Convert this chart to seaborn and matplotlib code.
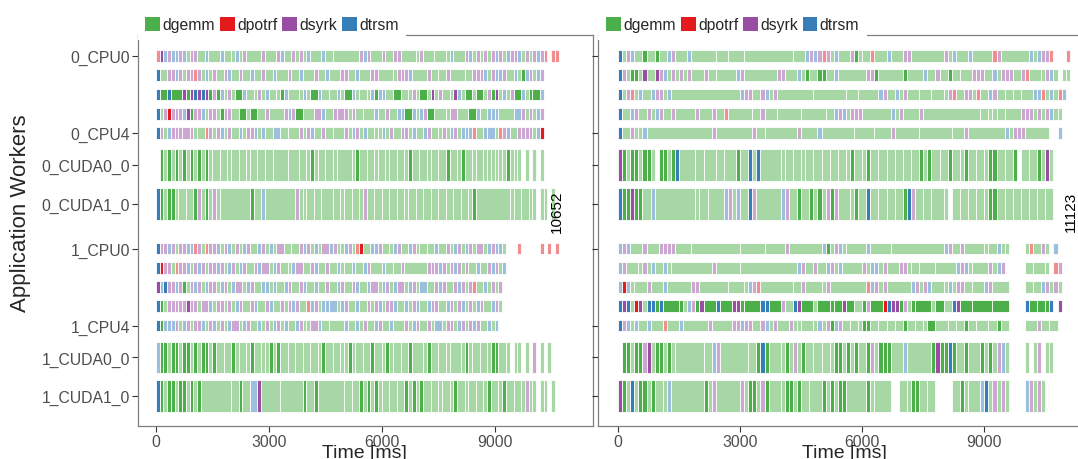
import matplotlib
matplotlib.use("Agg")
import matplotlib.pyplot as plt
from matplotlib.patches import Patch
import seaborn as sns

# one character = one 100 ms slot of a worker; upper case = highlighted task,
# "-" = previous task goes on, "." = idle
SLOT_MS = 100
CODES = {"g": "dgemm", "p": "dpotrf", "s": "dsyrk", "t": "dtrsm"}
TASKS = ["dgemm", "dpotrf", "dsyrk", "dtrsm"]

WORKERS = ["0_CPU0", "0_CPU1", "0_CPU2", "0_CPU3", "0_CPU4", "0_CUDA0_0", "0_CUDA1_0",
           "1_CPU0", "1_CPU1", "1_CPU2", "1_CPU3", "1_CPU4", "1_CUDA0_0", "1_CUDA1_0"]
YTICK_LABELS = ["0_CPU0", "0_CPU4", "0_CUDA0_0", "0_CUDA1_0",
                "1_CPU0", "1_CPU4", "1_CUDA0_0", "1_CUDA1_0"]
XTICKS = [0, 3000, 6000, 9000]
MAKESPAN = [10652, 11123]

TRACE_A = [
    "pStsttstgs sg-tg--tg- gtgsg---sg --stg-sgsg tg--tg-g-- ----stsg-- sg-ssg---g sg--g--gtg --stgsgsgs tsgtsstgsg stsp.pp",
    "Tg-sstsgss psgtgsg-st g-sg-tg-sg -tg--sg-tg --sg-tg--s sg-tg--ssg ---gssstg- --sg-g-sg- --g-ssstgs ttsg-tgGts gts",
    "TG-TG--SGS TSTSGsGtgs gG-tg-gsgt g-gGtg--gt gG-tg-g-tg G-tgg-gtGt tg-G-g-gsg G-gSgsg-gS tgG-gG-gsG SgtgsG-tgG G-t",
    "TgsPssstSG sstgssgGss g-G-gG-g-s g---stsG-g --s-tg-ss- sgsg-g--tg -sg-ttG-tg tsG-g--gs- g--G-tg-tt tg---t-sgs gts",
    "Tsgtssss-s gg-psgstgs g-tgsstgtg -t-g-g--sg stg-sg-g-- sgtsgtg-gg tgsg-ssgtg -tsg-gsgts gtttpg-tt- gpstg-ssss gtP",
    ".GgGgGgGgG gGgGgg-g-g g-g-gg-g-g -g---g--g- gGgg-g-gg- --gGg-g-gg -gg-g-gGg- g-gg-g-Gg- gGg-gg-ggg gggGggg.g. g.g.",
    "TGgGGgg-g- GsgGgsgg-- -----Gg-tg -------sgg g-g-g--g-g g-g-gsg-g- g-g-g-gg-g -g-g-g-g-g -g-gGg---- ----gg-g-g g.gg.g",
    "Tsstsgsstt psgpsstgst gsgtsg-tsg tgs-g-g-st sgtgs-tsgg tsgpPg-tts g-gtsg-tsg g-g-tg-sgt sgtsgs-gts ttg...p... ..p.p.p",
    "TPssgpsstg stsgsstsgt sgtsg-sts- gtsg-gts-g -stg-sg-tg g-tg-tsg-- tg-g-sg--- --ssstsgst sgsg-tg-st sgt",
    "StTsstsGgs tsgtssgtsg ts-gtsg-tt gtg-tsg-st g-tg-sg-ts g-stg-ts-g tsgts-gtsg t-g-stsg-s tsgspg-tgs gs",
    "TGgsssssSs sgs-tgssgs gtsg-stg-s tg-sgstsg- ptsgttt-gt sg-tg-sgst gsstg-tgst g-tssg-tsg stgsgtsg-t sg",
    "TGtttsgtsg sstgstgsgt s-gtsg-tgs gtsgtg-tsg gs-tg-g--- tg-tgsg-ts g-tg--sgts g-sgt-gssg tsgstsg-tg t",
    "tGGgGGgGGg GgGGgGg-g- Ggg-gGg-gg GgGg-g-g-g -g-gGg-g-g gGgg-g-Gg- gGgg-g-Gg- -gGg-g-gg- -gGgg-g-gG Gg-g.gg.g. s.g.g",
    "TGgGGgGGgG gGg------- g-Gg-t-Sg- ---g-----G g-Gg------ g-g-GgGgGg g-g-g-GgGg Gg-g-gg-gG g-gg-g-gGg -gGg-g-gsg g.gg.g",
]

TRACE_B = [
    "Tgstg-Gg-G g-tsg--tg- ----g--g-- -g-------- ---g--tsts psgtg--sGg g-pg--tg-- ssg------- sgtg--tg-- --psg----- -tgtssp... p",
    "TsgGGgSg-S stgsgsgsg- -sg-g----t sg-------s sg--tgGg-G Gg-tg----- -ssGg----- Gg---tg-sg -Gg-g--sss g-tgsssg-s pg--gstg.g g",
    "Tgspgtg-ts sgtg------ ---------- tssg-stgsg --------g- ------g--g ----tsg-tg sg--g--g-- gspg-ssgpg -tsg-g-g-g --ttpgtgpt",
    "Tg-tsg-sgt sg-sg----s g--sg-pg-- ---g-sg--g -----g---- -g-tstgsss g------tgs g---sg---- ---------g -ggg-g---s ssgsgstgg",
    "Tg-sggtg-- ---------- ---sg----- ---sg-g--- ----sg---t g-------g- ---g---sg- ----g----- --g--sg--- -----tgsss g-----..t",
    "SGgGGgGGg. GGgGTg---g -g--g-g--G g-TgTg---- gg-g-gg-g- g-g-g-gGg- gGg-g-g-g- g-g-GgGg-g -Gg-gGg-g- gGGg-g-G.g -g-GgSg",
    "TGGSGGg-tg ---------g g-g---tsgt g-Tsg----- tsg-Gg-GgG gsGsg--gGg -Tg-g-g-g- GTsg-g-g-- g.g-g-g-g- gGGg-g-g-g -g-g-g-",
    "tstg--sg-- ssssg---g- ---------- g-----g--- -sg------- tGgstgg--- -tg----g-- ---------- tsg-sg---- gg-tgg.... gpg-sg.t",
    "tsg--gsgtg -tgg------ ---sg----- g--------- ----tsg-sg -tsgtg---- sgttgsg--s sgg-g---g- ---tstgg-- -sgts..... g-g--g.ps",
    "tPtgg--sg- -tg-----ss g------g-- -gtspg---- ---g-sg--- gsg------- -ptsgsg--- --tsgstg-- gtgssg-g-- tsg---.... g-g-tsgsg",
    "TSTgPSgTTG TG---GgtsG SG--TG--SS GG---TTG-- sg-TSG--gG --GG-SG-g- GsG--PTSSG sgGG---gG- g-TSG--G-- --G---.... TG-G-GT.S",
    "Tstgtg-tg- -pg--tg--- --sg----ss tssg-stgsg --sggg--gt gsGtsg-g-g GGg-g-g-g- Gg-g-gG-g- -g-g-Gg-g- -g-Gg-.... g--sg-g-",
    ".GGgGGsSgG GgGgg----- -g-tsg---- --g-GTGg-- gGgsgGg-g- g-gGGgGgGg -GsgGGGg-- tg-----GSG GTGg-Gg--G gGgstg.... g.gs.gg",
    "SGgTgGGgGg -gtg------ -Ggsg----- sgGGgsGg-- gGGgGg-g-- GgGgGGg--- -Ggg---..g -gGGg-g-.. ..g-Ggg--t Tgsgsg.... tsgsg",
]


def parse_row(row):
    tasks = []
    cur = None
    for i, ch in enumerate(row.replace(" ", "")):
        if ch == "-":
            if cur is not None:
                cur[1] += SLOT_MS
        elif ch == ".":
            cur = None
        else:
            cur = [i * SLOT_MS, (i + 1) * SLOT_MS, CODES[ch.lower()], ch.isupper()]
            tasks.append(cur)
    return tasks


def row_layout(worker):
    node, res = worker.split("_", 1)
    base = int(node) * 10
    if res.startswith("CPU"):
        return base + int(res[3:]), 0.6
    return base + (5.66 if res.startswith("CUDA0") else 7.68), 1.65


sns.set_theme(style="ticks")
plt.rcParams["font.family"] = ["Liberation Sans", "DejaVu Sans"]

pal = sns.color_palette("Set1")
FULL = {"dgemm": pal[2], "dpotrf": pal[0], "dsyrk": pal[3], "dtrsm": pal[1]}
LIGHT = {k: tuple(0.5 + 0.5 * c for c in v) for k, v in FULL.items()}

W, H = 1078, 460
fig = plt.figure(figsize=(W / 100, H / 100), dpi=100)
ax_a = fig.add_axes([137.5 / W, 33 / H, 455 / W, 391 / H])
ax_b = fig.add_axes([598.3 / W, 33 / H, 491.7 / W, 391 / H])

ytick_pos = [row_layout(w)[0] for w in YTICK_LABELS]

for ax, trace, ms in zip([ax_a, ax_b], [TRACE_A, TRACE_B], MAKESPAN):
    for worker, row in zip(WORKERS, trace):
        y, h = row_layout(worker)
        groups = {}
        for start, end, name, hi in parse_row(row):
            col = FULL[name] if hi else LIGHT[name]
            groups.setdefault(col, []).append((start, end - start))
        for col, spans in groups.items():
            ax.broken_barh(spans, (y - h / 2, h), facecolors=col,
                           edgecolors="white", linewidth=0.6)

    ax.text(ms, 8.05, str(ms), rotation=90, ha="center", va="center",
            fontsize=11, color="black")

    ax.set_xlim(-485, 11597)
    ax.set_ylim(19.22, -1.09)
    ax.set_xticks(XTICKS)
    ax.set_yticks(ytick_pos)
    ax.tick_params(axis="both", direction="out", length=4, width=0.8,
                   color="#333333", labelcolor="#4d4d4d", labelsize=11.3, pad=1.5,
                   left=True, bottom=True)
    for sp in ax.spines.values():
        sp.set_color("#7f7f7f")
        sp.set_linewidth(0.9)

    handles = [Patch(facecolor=FULL[t], edgecolor="none", label=t) for t in TASKS]
    leg = ax.legend(handles=handles, ncol=4, loc="lower left",
                    bbox_to_anchor=(0.0, 0.987), borderaxespad=0,
                    frameon=True, fancybox=False, framealpha=1,
                    facecolor="white", edgecolor="none", fontsize=11.3,
                    handlelength=0.95, handleheight=0.95, handletextpad=0.15,
                    columnspacing=0.3, borderpad=0.5)
    leg.set_zorder(10)

ax_a.set_yticklabels(YTICK_LABELS)
ax_b.set_yticklabels([])

fig.text(21 / W, 1 - 213 / H, "Application Workers", rotation=90,
         ha="center", va="center", fontsize=16)
fig.text(364.5 / W, 1 - 454 / H, "Time [ms]", ha="center", va="center", fontsize=14)
fig.text(844 / W, 1 - 454 / H, "Time [ms]", ha="center", va="center", fontsize=14)

fig.savefig("out.png", dpi=100)
